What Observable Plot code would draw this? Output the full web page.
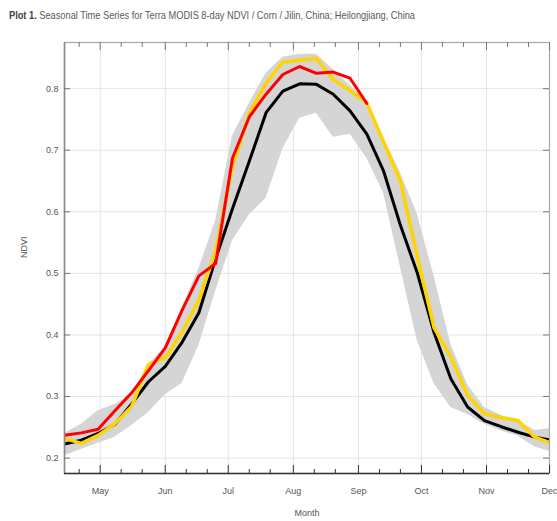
<!DOCTYPE html>
<html>
<head>
<meta charset="utf-8">
<script src="https://cdn.jsdelivr.net/npm/d3@7"></script>
<script src="https://cdn.jsdelivr.net/npm/@observablehq/plot@0.6"></script>
<style>
  body { margin: 0; background: #fff; }
  #wrap { position: relative; width: 557px; height: 521px; }
  #title {
    position: absolute; left: 9px; top: 9px;
    font: 11.5px "Liberation Sans", Arial, sans-serif;
    line-height: 13px;
    color: #5a5a5a; white-space: nowrap;
    transform-origin: 0 0;
  }
  #title b { color: #444; }
</style>
</head>
<body>
<div id="wrap">
  <div id="title"><b>Plot 1.</b> Seasonal Time Series for Terra MODIS 8-day NDVI / Corn / Jilin, China; Heilongjiang, China</div>
</div>
<script>
// 8-day MODIS composite start dates (day-of-year 105, 113, ... on a leap-year calendar)
const compositeDates = [
  "2020-04-14", "2020-04-22", "2020-04-30", "2020-05-08", "2020-05-16", "2020-05-24",
  "2020-06-01", "2020-06-09", "2020-06-17", "2020-06-25", "2020-07-03", "2020-07-11",
  "2020-07-19", "2020-07-27", "2020-08-04", "2020-08-12", "2020-08-20", "2020-08-28",
  "2020-09-05", "2020-09-13", "2020-09-21", "2020-09-29", "2020-10-07", "2020-10-15",
  "2020-10-23", "2020-10-31", "2020-11-08", "2020-11-16", "2020-11-24", "2020-12-02"
];

// Multi-year envelope (min / max) and mean
const minNdvi = [
  0.204, 0.214, 0.224, 0.234, 0.253, 0.274, 0.303, 0.321, 0.383, 0.471,
  0.553, 0.595, 0.622, 0.702, 0.752, 0.760, 0.721, 0.726, 0.687, 0.630,
  0.510, 0.391, 0.321, 0.282, 0.271, 0.255, 0.244, 0.236, 0.218, 0.210
];
const maxNdvi = [
  0.240, 0.255, 0.277, 0.287, 0.303, 0.352, 0.380, 0.445, 0.507, 0.586,
  0.723, 0.776, 0.825, 0.851, 0.856, 0.856, 0.831, 0.805, 0.780, 0.721,
  0.663, 0.597, 0.496, 0.385, 0.319, 0.282, 0.269, 0.261, 0.245, 0.248
];
const meanNdvi = [
  0.223, 0.229, 0.240, 0.255, 0.288, 0.324, 0.349, 0.388, 0.436, 0.524,
  0.605, 0.682, 0.761, 0.796, 0.808, 0.807, 0.791, 0.764, 0.726, 0.666,
  0.578, 0.501, 0.404, 0.329, 0.283, 0.261, 0.251, 0.242, 0.234, 0.229
];
// Previous season (yellow) and current season (red, through early September)
const previousNdvi = [
  0.232, 0.224, 0.237, 0.256, 0.284, 0.352, 0.363, 0.404, 0.457, 0.536,
  0.673, 0.760, 0.809, 0.843, 0.846, 0.849, 0.815, 0.797, 0.777, 0.713,
  0.650, 0.528, 0.412, 0.364, 0.302, 0.272, 0.266, 0.261, 0.234, 0.224
];
const currentNdvi = [
  0.237, 0.241, 0.247, 0.277, 0.306, 0.342, 0.379, 0.440, 0.496, 0.516,
  0.687, 0.754, 0.791, 0.823, 0.836, 0.825, 0.827, 0.817, 0.776
];

const monthTicks = [
  "2020-05-01", "2020-06-01", "2020-07-01", "2020-08-01",
  "2020-09-01", "2020-10-01", "2020-11-01", "2020-12-01"
];
const dekadTicks = [
  "2020-04-21", "2020-05-11", "2020-05-21", "2020-06-11", "2020-06-21",
  "2020-07-11", "2020-07-21", "2020-08-11", "2020-08-21", "2020-09-11",
  "2020-09-21", "2020-10-11", "2020-10-21", "2020-11-11", "2020-11-21"
];
const ndviTicks = [0.2, 0.3, 0.4, 0.5, 0.6, 0.7, 0.8];
const xStart = "2020-04-14";
const xEnd = "2020-12-01";
const yDomain = [0.175, 0.875];

const parse = d3.utcParse("%Y-%m-%d");
const dates = compositeDates.map(parse);
const months = monthTicks.map(parse);
const dekads = dekadTicks.map(parse);

const envelope = dates.map((date, i) => ({date, lo: minNdvi[i], hi: maxNdvi[i]}));
const asSeries = (values) => values.map((v, i) => ({date: dates[i], ndvi: v}));

const W = 557, H = 521, mT = 42, mB = 48, mL = 64, mR = 8;
const innerW = W - mL - mR;
const innerH = H - mT - mB;
const font = '"Liberation Sans", Arial, sans-serif';

const chart = Plot.plot({
  width: W,
  height: H,
  marginTop: mT,
  marginBottom: mB,
  marginLeft: mL,
  marginRight: mR,
  style: {fontFamily: font, fontSize: "9px", color: "#555", background: "transparent"},
  x: {
    type: "utc",
    domain: [parse(xStart), parse(xEnd)],
    ticks: months,
    tickFormat: d3.utcFormat("%b"),
    tickSize: 0,
    tickPadding: 14,
    label: null
  },
  y: {
    domain: yDomain,
    ticks: ndviTicks,
    tickFormat: d3.format(".1f"),
    tickSize: 0,
    tickPadding: 6,
    label: null
  },
  marks: [
    // grid
    Plot.ruleX(months, {x: d => d, stroke: "#e4e4e4", strokeWidth: 1}),
    Plot.ruleY(ndviTicks, {y: d => d, stroke: "#e4e4e4", strokeWidth: 1}),
    // min–max envelope
    Plot.areaY(envelope, {x: "date", y1: "lo", y2: "hi", fill: "#d5d5d5", clip: true}),
    // series
    Plot.line(asSeries(meanNdvi), {x: "date", y: "ndvi", stroke: "#000", strokeWidth: 3, clip: true}),
    Plot.line(asSeries(previousNdvi), {x: "date", y: "ndvi", stroke: "#ffd400", strokeWidth: 3.5, clip: true}),
    Plot.line(asSeries(currentNdvi), {x: "date", y: "ndvi", stroke: "#ff0000", strokeWidth: 3, clip: true}),
    // frame
    Plot.frame({stroke: "#a8a8a8", strokeWidth: 1.2}),
    Plot.ruleX([parse(xStart)], {x: d => d, stroke: "#8a8a8a", strokeWidth: 1.6}),
    Plot.ruleY([yDomain[0]], {y: d => d, stroke: "#333", strokeWidth: 1.6}),
    // inward tick marks on all four sides
    Plot.tickX(months, {x: d => d, stroke: "#333", insetTop: innerH - 8}),
    Plot.tickX(dekads, {x: d => d, stroke: "#333", insetTop: innerH - 4}),
    Plot.tickX(months, {x: d => d, stroke: "#777", insetBottom: innerH - 8}),
    Plot.tickX(dekads, {x: d => d, stroke: "#777", insetBottom: innerH - 5}),
    Plot.tickY(ndviTicks, {y: d => d, stroke: "#777", insetRight: innerW - 6}),
    Plot.tickY(ndviTicks, {y: d => d, stroke: "#777", insetLeft: innerW - 6}),
    // axis titles
    Plot.text(["NDVI"], {text: d => d, frameAnchor: "left", dx: -40, rotate: -90, fill: "#555", fontSize: 9}),
    Plot.text(["Month"], {text: d => d, frameAnchor: "bottom", dy: 42, fill: "#555", fontSize: 9})
  ]
});

document.getElementById("wrap").prepend(chart);

// condense the title so it spans the same width as a narrow typeface would
const title = document.getElementById("title");
const titleWidth = title.getBoundingClientRect().width;
title.style.transform = `scaleX(${406 / titleWidth})`;
</script>
</body>
</html>
